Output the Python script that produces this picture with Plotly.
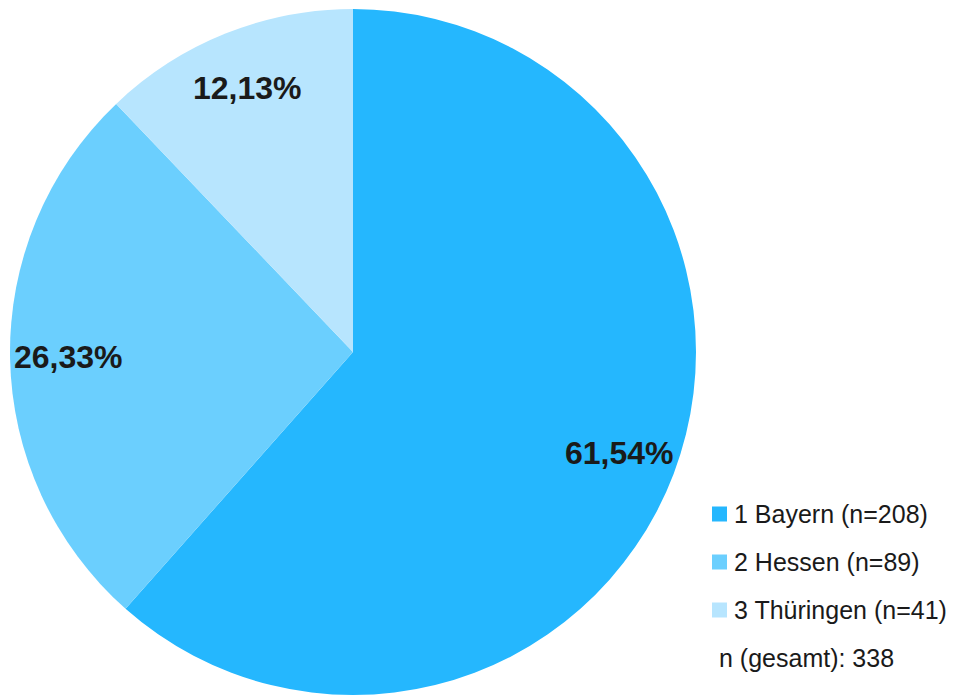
import math
import plotly.graph_objects as go

labels = ["1 Bayern", "2 Hessen", "3 Thüringen"]
counts = [208, 89, 41]
colors = ["#25B7FE", "#6BCFFE", "#B7E5FE"]
total_label = "n (gesamt): "

W, H = 954, 695
cx_px, cy_px, r_px = 353, 352, 343

total = sum(counts)
fig = go.Figure()
fig.add_trace(go.Pie(
    labels=labels, values=counts, sort=False, direction="clockwise", rotation=0,
    marker=dict(colors=colors, line=dict(width=0)),
    textinfo="none", hoverinfo="label+value+percent", showlegend=False,
    domain=dict(x=[(cx_px - r_px) / W, (cx_px + r_px) / W],
                y=[1 - (cy_px + r_px) / H, 1 - (cy_px - r_px) / H]),
))

annotations = []
shapes = []
cum = 0
for lab, c, col in zip(labels, counts, colors):
    mid = (cum + c / 2) / total * 2 * math.pi
    cum += c
    rr = 0.83 * r_px
    px = cx_px + rr * math.sin(mid)
    py = cy_px - rr * math.cos(mid)
    pct = f"{c / total * 100:.2f}%".replace(".", ",")
    annotations.append(dict(
        x=px / W, y=1 - py / H, xref="paper", yref="paper", text=pct, showarrow=False,
        font=dict(family="Liberation Sans, Arial", size=32,
                  color="#1a1a1a", weight="bold"),
        xanchor="center", yanchor="middle"))

# legend
leg_x, leg_y0, leg_dy, sq = 712, 514, 48, 15
for i, (lab, c, col) in enumerate(zip(labels, counts, colors)):
    yc = leg_y0 + i * leg_dy
    shapes.append(dict(type="rect", xref="paper", yref="paper",
                       x0=leg_x / W, x1=(leg_x + sq) / W,
                       y0=1 - (yc + sq / 2) / H, y1=1 - (yc - sq / 2) / H,
                       fillcolor=col, line=dict(width=0)))
    annotations.append(dict(
        x=(leg_x + sq + 5) / W, y=1 - yc / H, xref="paper", yref="paper",
        text=f"{lab} (n={c})", showarrow=False, xanchor="left", yanchor="middle",
        font=dict(family="Liberation Sans, Arial", size=25, color="#1a1a1a")))
annotations.append(dict(
    x=717 / W, y=1 - (leg_y0 + 3 * leg_dy) / H, xref="paper", yref="paper",
    text=f"{total_label}{total}", showarrow=False, xanchor="left", yanchor="middle",
    font=dict(family="Liberation Sans, Arial", size=25, color="#1a1a1a")))

fig.update_layout(width=W, height=H, margin=dict(l=0, r=0, t=0, b=0),
                  paper_bgcolor="white", plot_bgcolor="white",
                  annotations=annotations, shapes=shapes)
fig.write_html("out.html")
